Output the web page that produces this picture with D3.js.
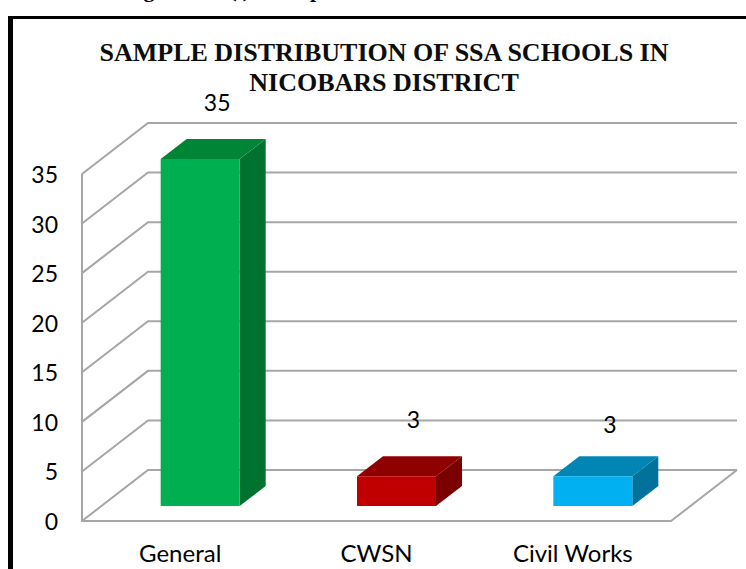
<!DOCTYPE html>
<html>
<head>
<meta charset="utf-8">
<script src="https://cdn.jsdelivr.net/npm/d3@7"></script>
<style>
  html, body { margin: 0; padding: 0; background: #fff; overflow: hidden; }
  svg { display: block; }
</style>
</head>
<body>
<svg id="canvas" width="746" height="569"></svg>
<script>
const categories = ["General", "CWSN", "Civil Works"]
const values = [35, 3, 3]
const tickValues = [0, 5, 10, 15, 20, 25, 30, 35]
const titleLines = ["SAMPLE DISTRIBUTION OF SSA SCHOOLS IN", "NICOBARS DISTRICT"]
const frontColors = ["#00b050", "#c00000", "#00b0f0"]
const topColors = ["#008537", "#8f0000", "#0085b5"]
const sideColors = ["#00722f", "#7a0000", "#00729c"]

const svg = d3.select("#canvas")
const sans = "Lato, sans-serif"
const grey = "#a6a6a6"

// front edge of the floor, the back wall is this shifted by depth
const depth = { x: 66, y: -51 }
const x = d3.scaleBand().domain(categories).range([82, 671])
const y = d3.scaleLinear().domain([0, 35]).range([521, 174])
const barDepth = { x: 26, y: -20 }
const barLift = 15
const barWidth = 79
const barShift = 20

const center = d => x(d) + x.bandwidth() / 2
const barLeft = d => center(d) + barShift - barWidth / 2
const barBase = y(0) - barLift
const barTop = (d, i) => barBase - (y(0) - y(values[i]))

// page furniture: cut off caption line and the frame
svg.append("text").attr("x", 124).attr("y", -3.5)
  .style("font", "bold 22px 'Liberation Serif', serif")
  .text("Figure No. (i) : Sample")
svg.append("rect").attr("x", 8).attr("y", 16).attr("width", 5).attr("height", 553).attr("fill", "#000")
svg.append("rect").attr("x", 8).attr("y", 16).attr("width", 738).attr("height", 3).attr("fill", "#000")

// title
svg.append("g").selectAll("text").data(titleLines).enter().append("text")
  .attr("x", 384)
  .attr("y", (d, i) => 61 + i * 30)
  .attr("text-anchor", "middle")
  .style("font", "bold 26px 'Liberation Serif', serif")
  .attr("fill", "#0d0d0d")
  .text(d => d)

// gridlines, back wall plus the slanted bit on the side wall
const grid = svg.append("g").attr("fill", "none").attr("stroke", grey).attr("stroke-width", 2)
grid.selectAll("path.tick").data(tickValues).enter().append("path")
  .attr("class", "tick")
  .attr("d", d => {
    const p = d3.path()
    p.moveTo(82, y(d))
    p.lineTo(82 + depth.x, y(d) + depth.y)
    p.lineTo(671 + depth.x, y(d) + depth.y)
    return p.toString()
  })
// axis line and floor outline
grid.append("path").attr("d", () => {
  const p = d3.path()
  p.moveTo(82, y(35))
  p.lineTo(82, y(0))
  p.lineTo(671, y(0))
  p.lineTo(671 + depth.x, y(0) + depth.y)
  return p.toString()
})

// y axis labels
svg.append("g").selectAll("text").data(tickValues).enter().append("text")
  .attr("x", 58)
  .attr("y", d => y(d) + 9)
  .attr("text-anchor", "end")
  .style("font", "23px " + sans)
  .attr("fill", "#000")
  .text(d => d)

// bars
const bars = svg.append("g").selectAll("g").data(categories).enter().append("g")

bars.append("polygon").attr("fill", (d, i) => sideColors[i])
  .attr("points", (d, i) => {
    const r = barLeft(d) + barWidth
    const t = barTop(d, i)
    return [[r, barBase], [r, t], [r + barDepth.x, t + barDepth.y], [r + barDepth.x, barBase + barDepth.y]].join(" ")
  })
bars.append("polygon").attr("fill", (d, i) => topColors[i])
  .attr("points", (d, i) => {
    const l = barLeft(d), r = l + barWidth, t = barTop(d, i)
    return [[l, t], [r, t], [r + barDepth.x, t + barDepth.y], [l + barDepth.x, t + barDepth.y]].join(" ")
  })
bars.append("rect").attr("fill", (d, i) => frontColors[i])
  .attr("x", d => barLeft(d))
  .attr("y", (d, i) => barTop(d, i))
  .attr("width", barWidth)
  .attr("height", (d, i) => barBase - barTop(d, i))

// value labels above the bars, the last one sits a bit lower in the original
svg.append("g").selectAll("text").data(categories).enter().append("text")
  .attr("x", d => center(d) + 37)
  .attr("y", (d, i) => barTop(d, i) - 48 + (i === 2 ? 5 : 0))
  .attr("text-anchor", "middle")
  .style("font", "23px " + sans)
  .attr("fill", "#000")
  .text((d, i) => values[i])

// category labels
svg.append("g").selectAll("text").data(categories).enter().append("text")
  .attr("x", d => center(d))
  .attr("y", 562)
  .attr("text-anchor", "middle")
  .style("font", "24px " + sans)
  .attr("fill", "#000")
  .text(d => d)
</script>
</body>
</html>
